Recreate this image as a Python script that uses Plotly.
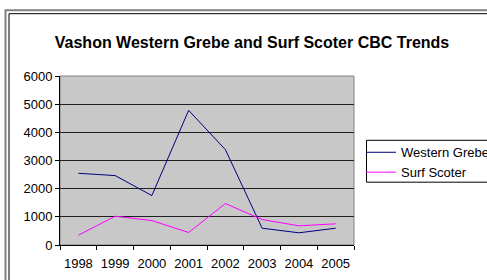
import plotly.graph_objects as go

years = ["1998", "1999", "2000", "2001", "2002", "2003", "2004", "2005"]
western_grebe = [2546, 2465, 1755, 4780, 3386, 596, 433, 596]
surf_scoter = [348, 1021, 869, 443, 1472, 904, 681, 752]
y_ticks = [0, 1000, 2000, 3000, 4000, 5000, 6000]

FONT = "Arial, Liberation Sans, sans-serif"

fig = go.Figure()
fig.add_trace(go.Scatter(x=years, y=western_grebe, mode="lines", name="Western Grebe",
                         line=dict(color="#000080", width=1)))
fig.add_trace(go.Scatter(x=years, y=surf_scoter, mode="lines", name="Surf Scoter",
                         line=dict(color="#FF00FF", width=1)))

L, R, T, B = 60, 133, 76, 34.5
W, H = 487, 280
pw, ph = W - L - R, H - T - B

def px(x):
    return (x - L) / pw

def py(y):
    return (H - B - y) / ph

fig.update_layout(
    width=W, height=H,
    margin=dict(l=L, r=R, t=T, b=B, autoexpand=False),
    paper_bgcolor="white",
    plot_bgcolor="#C8C8C8",
    font=dict(family=FONT, size=13, color="black"),
    title=dict(text="<b>Vashon Western Grebe and Surf Scoter CBC Trends</b>",
               x=252 / W, xanchor="center", xref="container", y=1 - 42.7 / H, yanchor="middle",
               yref="container",
               font=dict(size=16, family=FONT, color="black")),
    showlegend=True,
    legend=dict(x=px(361), y=py(137.5), xanchor="left", yanchor="top",
                bgcolor="rgba(0,0,0,0)", borderwidth=0,
                font=dict(size=13, family=FONT), tracegroupgap=0,
                itemwidth=30),
    xaxis=dict(type="category", tickson="boundaries", ticks="outside", ticklen=4,
               tickcolor="black", showline=True, linecolor="black", linewidth=1,
               showgrid=False, range=[-0.5, 7.5], fixedrange=True, tickangle=0,
               tickfont=dict(size=13), ticklabelstandoff=6),
    yaxis=dict(range=[0, 6000], tickvals=y_ticks, ticks="outside", ticklen=4,
               tickcolor="black", showline=True, linecolor="black", linewidth=1,
               showgrid=True, gridcolor="#202020", gridwidth=1, zeroline=False,
               fixedrange=True),
)

# plot area border (gray) and outer frames
fig.add_shape(type="rect", xref="paper", yref="paper", x0=0, y0=0, x1=1, y1=1,
              line=dict(color="#808080", width=1), layer="below")
fig.add_shape(type="rect", xref="paper", yref="paper",
              x0=px(5.5), y0=py(10), x1=px(W + 10), y1=py(H + 10),
              line=dict(color="#808080", width=2))
fig.add_shape(type="rect", xref="paper", yref="paper",
              x0=px(9), y0=py(13.5), x1=px(W + 10), y1=py(H + 10),
              line=dict(color="black", width=1))
# legend box
fig.add_shape(type="rect", xref="paper", yref="paper",
              x0=px(366.5), y0=py(140.5), x1=px(W + 10), y1=py(182.5),
              line=dict(color="black", width=1), fillcolor="white", layer="below")

fig.write_html("out.html", config={"displayModeBar": False},
               post_script="document.body.style.margin='0';")
